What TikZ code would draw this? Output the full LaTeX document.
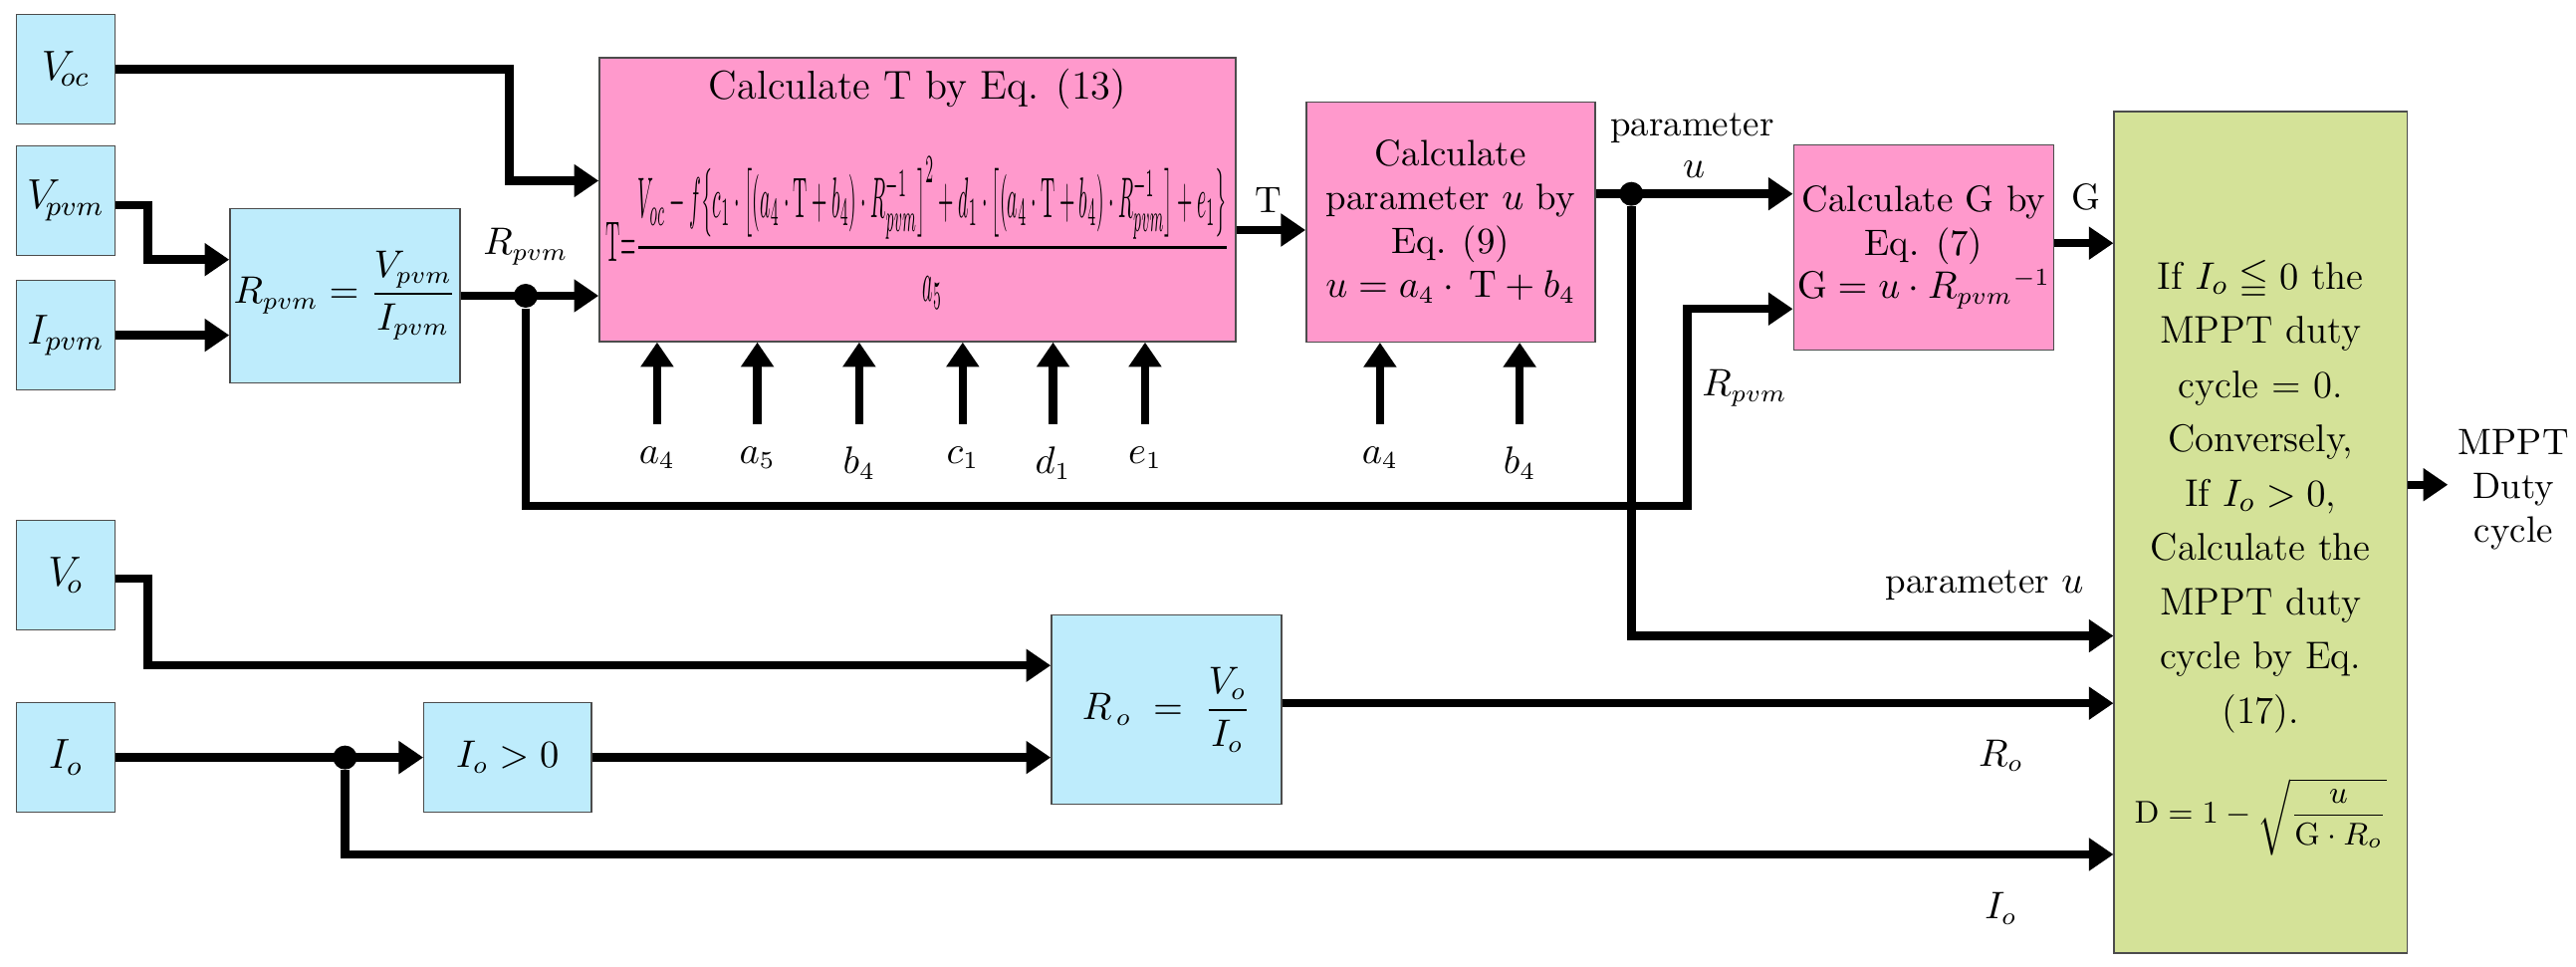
\documentclass[tikz,border=0pt]{standalone}
\usepackage{amsmath,amssymb}
\usetikzlibrary{arrows.meta,positioning,calc}
\definecolor{hellblau}{RGB}{190,236,252}
\definecolor{rosa}{RGB}{255,153,204}
\definecolor{hellgruen}{RGB}{212,226,152}
\tikzset{
  blk/.style={draw=black!70, thin, minimum width=#1, font=\fontsize{10.5}{12.5}\selectfont, align=center, inner sep=1pt},
  eing/.style={blk=0.99cm, fill=hellblau, minimum height=1.1cm, font=\fontsize{12}{14}\selectfont},
  blau/.style={blk=#1, fill=hellblau},
  pink/.style={blk=#1, fill=rosa},
  pfeil/.style={line width=2.4pt, -{Triangle[length=7pt,width=9pt]}},
  punkt/.style={circle, fill=black, inner sep=0pt, minimum size=0.24cm},
  lab/.style={font=\fontsize{10.5}{12.5}\selectfont}
}
\begin{document}
\begin{tikzpicture}[x=0.0165cm, y=-0.0165cm]
    \useasboundingbox (0,0) rectangle (1568,588);

    % Eingaenge
    \node[eing] (voc) at (40,42) {$V_{\!oc}$};
    \node[eing] (vpvm) at (40,122) {$V_{\!pvm}$};
    \node[eing] (ipvm) at (40,204) {$I_{pvm}$};
    \node[eing] (vo) at (40,350) {$V_{\!o}$};
    \node[eing] (io) at (40,461) {$I_{o}$};

    % Bloecke
    \node[blau=2.31cm, minimum height=1.75cm] (rpvm) at (210,180) {$R_{pvm}=\dfrac{V_{pvm}}{I_{pvm}}$};
    \node[pink=6.39cm, minimum height=2.85cm] (calcT) at (558.5,121.5) {};
    \node[lab, font=\fontsize{11.5}{13}\selectfont] at (558.5,54) {Calculate T by Eq. (13)};
    \node at (558.5,142) {\resizebox{6.25cm}{1.05cm}{$\mathrm{T}{=}\dfrac{V_{oc}-f\big\{c_1\cdot\big[(a_4\cdot\mathrm{T}+b_4)\cdot R_{pvm}^{-1}\big]^2+d_1\cdot\big[(a_4\cdot\mathrm{T}+b_4)\cdot R_{pvm}^{-1}\big]+e_1\big\}}{a_5}$}};
    \node[pink=2.9cm, minimum height=2.41cm] (calcU) at (883,135) {Calculate\\parameter $u$ by\\Eq. (9)\\$u=a_4\cdot\,\mathrm{T}+b_4$};
    \node[pink=2.44cm, minimum height=2.06cm] (calcG) at (1171,150.5) {Calculate G by\\Eq. (7)\\$\mathrm{G}=u\cdot R_{pvm}{}^{-1}$};
    \node[blk=2.94cm, fill=hellgruen, minimum height=8.45cm] (mppt) at (1376,324) {};
    \node[lab, align=center, font=\fontsize{11}{15.5}\selectfont] (mtxt) at (1376,302) {If $I_o \leqq 0$ the\\MPPT duty\\cycle = 0.\\Conversely,\\If $I_o > 0$,\\Calculate the\\MPPT duty\\cycle by Eq.\\(17).};
    \node[lab, font=\fontsize{9}{11}\selectfont] (dform) at (1376,497) {$\mathrm{D}=1-\sqrt{\dfrac{u}{\mathrm{G}\cdot R_o}}$};
    \node[blau=1.68cm, minimum height=1.1cm] (iopos) at (309,461) {$I_o>0$};
    \node[blau=2.31cm, minimum height=1.9cm] (ro) at (710,432) {$R_{\,o}\;=\;\dfrac{V_o}{I_o}$};

    % Hilfspunkte
    \coordinate (k1) at (310,42);
    \coordinate (k2) at (90,125);
    \coordinate (k3) at (1027,308);
    \coordinate (k4) at (90,352);
    \node[punkt] (d1) at (320,180) {};
    \node[punkt] (d2) at (993,118) {};
    \node[punkt] (d3) at (210,461) {};
    \coordinate (aus) at (1490,295);

    % Verbindungen
    \draw[pfeil] (voc.east) -| (k1) |- (calcT.west |- 0,110);
    \draw[pfeil] (vpvm.east |- k2) -| (90,158) -- (rpvm.west |- 0,158);
    \draw[pfeil] (ipvm.east) -- (rpvm.west |- ipvm.east);
    \draw[pfeil] (rpvm.east) -- (calcT.west |- rpvm.east);
    \draw[pfeil] (d1) |- (k3) |- (calcG.west |- 0,188);
    \draw[pfeil] (calcT.east |- 0,140) -- (calcU.west |- 0,140);
    \draw[pfeil] (calcU.east |- d2) -- (calcG.west |- d2);
    \draw[pfeil] (d2) |- (mppt.west |- 0,387);
    \draw[pfeil] (calcG.east |- 0,148) -- (mppt.west |- 0,148);
    \draw[pfeil] (vo.east |- k4) -| (90,405) -- (ro.west |- 0,405);
    \draw[pfeil] (io.east) -- (iopos.west);
    \draw[pfeil] (iopos.east) -- (ro.west |- iopos.east);
    \draw[pfeil] (d3) |- (mppt.west |- 0,520);
    \draw[pfeil] (ro.east |- 0,428) -- (mppt.west |- 0,428);
    \draw[pfeil] (mppt.east |- aus) -- (aus);

    % Parametereingaenge
    \foreach \x/\p in {400/a_4, 461/a_5, 523/b_4, 586/c_1, 641/d_1, 697/e_1}
        \draw[pfeil] (\x,258) node[lab, below=2pt] {$\p$} -- (calcT.south -| \x,0);
    \foreach \x/\p in {840/a_4, 925/b_4}
        \draw[pfeil] (\x,258) node[lab, below=2pt] {$\p$} -- (calcU.south -| \x,0);

    % Beschriftungen
    \node[lab] at (320,150) {$R_{pvm}$};
    \node[lab] at (772,122) {T};
    \node[lab] at (1030,78) {parameter};
    \node[lab] at (1031,103) {$u$};
    \node[lab] at (1270,120) {G};
    \node[lab] at (1062,236) {$R_{pvm}$};
    \node[lab] at (1208,356) {parameter $u$};
    \node[lab] at (1218,460) {$R_o$};
    \node[lab] at (1218,553) {$I_o$};
    \node[lab, align=center] at (1530,298) {MPPT\\Duty\\cycle};
\end{tikzpicture}
\end{document}
